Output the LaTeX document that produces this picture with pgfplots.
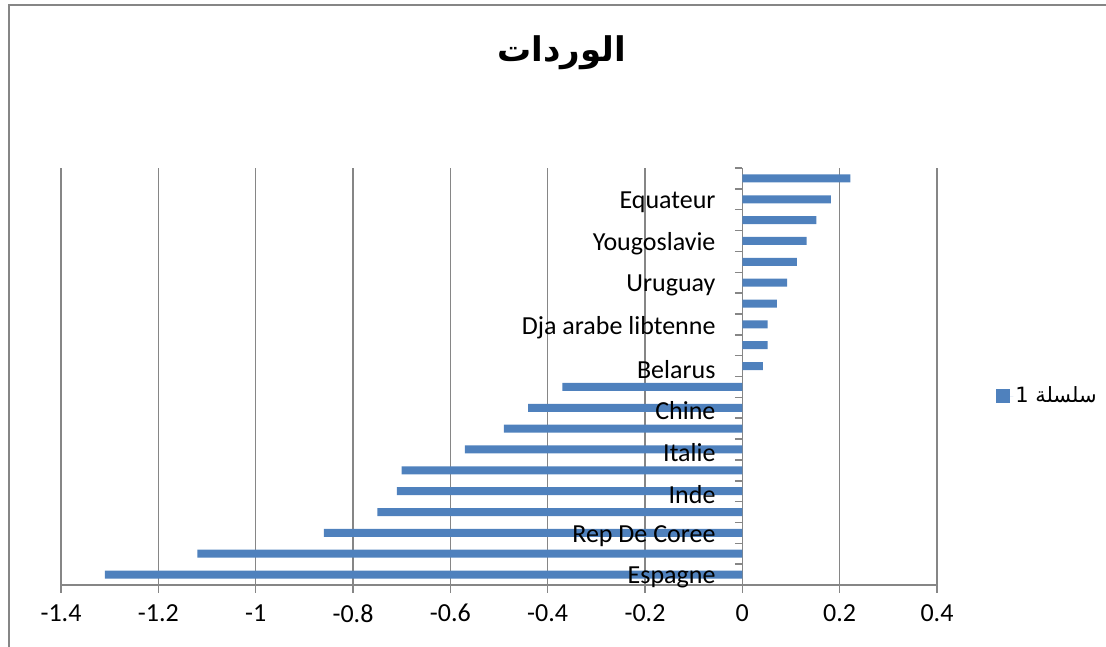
\documentclass[border=0pt]{standalone}
\usepackage{pgfplots}
\pgfplotsset{compat=1.18}
\usepackage{fontspec}
\setmainfont{Carlito}
\newfontfamily\arabicfont[Script=Arabic]{DejaVu Sans}
\TeXXeTstate=1
\definecolor{barblue}{HTML}{4F81BD}
\definecolor{axgray}{HTML}{868686}
\pgfplotsset{
  myframe/.style={
    at={(61pt,-585pt)}, anchor=south west,
    width=876pt, height=417pt, scale only axis,
    xmin=-1.4, xmax=0.4, ymin=0.5, ymax=20.5,
    axis x line*=bottom, axis y line*=center,
    /pgf/number format/assume math mode=true,
    ticklabel style={font=\fontsize{26pt}{31pt}\selectfont},
  }
}
\begin{document}
\fontsize{26pt}{31pt}\selectfont
\begin{tikzpicture}
\useasboundingbox (0pt,0pt) rectangle (1106pt,-647pt);
\draw[axgray, line width=2pt] (9pt,-700pt) -- (9pt,-5pt) -- (1200pt,-5pt);
\node[font={\fontsize{34pt}{40pt}\selectfont\arabicfont\bfseries}] at (562pt,-53pt) {\beginR الوردات\endR};
\begin{axis}[
  myframe,
  xbar, bar width=8pt,
  axis line style={axgray, line width=1.5pt},
  xtick={-1.4,-1.2,-1,-0.8,-0.6,-0.4,-0.2,0,0.2,0.4},
  xticklabels={-1.4,-1.2,-1,-0.8,-0.6,-0.4,-0.2,0,0.2,0.4},
  xmajorgrids, grid style={axgray, line width=1.5pt},
  tick align=outside, major tick length=7.5pt,
  tick style={axgray, line width=1.5pt},
  ytick={0.5,1.5,...,20.5}, yticklabels={},
  xticklabel style={yshift=-3pt},
  legend style={at={(1.064,0.453)}, anchor=west, draw=none, fill=none,
    font={\fontsize{21pt}{25pt}\selectfont\arabicfont}},
  legend cell align=left,
  clip=false,
]
\addplot[fill=barblue, draw=none,
  legend image code/.code={\fill[barblue] (0pt,-7pt) rectangle (14pt,7pt); \path (0pt,0pt) -- (17pt,0pt);}]
  coordinates {
  (-1.31,1) (-1.12,2) (-0.86,3) (-0.75,4) (-0.71,5) (-0.70,6) (-0.57,7)
  (-0.49,8) (-0.44,9) (-0.37,10) (0.042,11) (0.052,12) (0.052,13) (0.071,14)
  (0.092,15) (0.112,16) (0.132,17) (0.152,18) (0.182,19) (0.222,20)};
\addlegendentry{\beginR سلسلة 1\endR}
\end{axis}
\begin{axis}[
  myframe,
  axis line style={draw=none},
  xtick=\empty,
  ytick={1,3,5,7,9,11,13,15,17,19},
  yticklabels={Espagne,Rep De Coree,Inde,Italie,Chine,Belarus,Dja arabe libtenne,Uruguay,Yougoslavie,Equateur},
  major tick length=0pt, tick style={draw=none},
  yticklabel style={anchor=east, xshift=-18pt, yshift=-3pt},
]
\end{axis}
\end{tikzpicture}
\end{document}
